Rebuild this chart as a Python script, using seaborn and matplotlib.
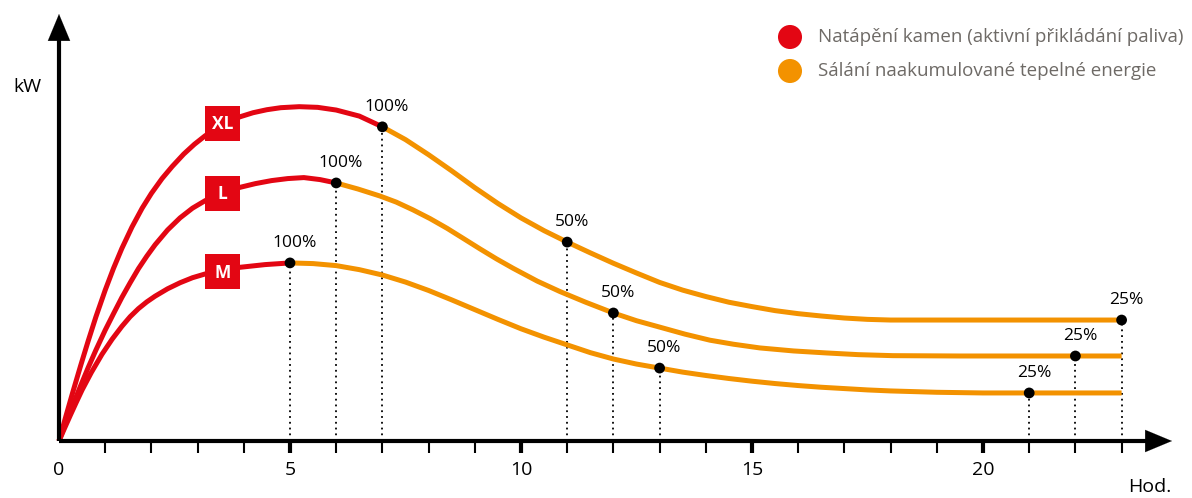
import numpy as np
import pandas as pd
import matplotlib
matplotlib.use("Agg")
import matplotlib.pyplot as plt
from matplotlib.patches import Rectangle
import seaborn as sns

# ---------------- data ----------------
hours_xl = [0, 0.15, 0.3, 0.47, 0.63, 0.8, 1.0, 1.18, 1.36, 1.58, 1.8, 2.0, 2.23, 2.45, 2.7, 2.93,
            3.16, 3.35, 3.54, 3.73, 3.92, 4.2, 4.5, 4.8, 5.2, 5.6, 6.0, 6.5, 7.0, 7.5, 8.0, 8.5,
            9.0, 9.5, 10.0, 10.5, 11.0, 11.5, 12.0, 12.5, 13.0, 13.5, 14.0, 14.5, 15.0, 15.5,
            16.0, 16.5, 17.0, 17.5, 18.0, 19.0, 21.0, 23.0]
kw_xl = [0, 0.74, 1.46, 2.25, 2.97, 3.7, 4.49, 5.14, 5.73, 6.37, 6.93, 7.37, 7.81, 8.17, 8.54, 8.83,
         9.08, 9.25, 9.41, 9.54, 9.65, 9.77, 9.86, 9.92, 9.95, 9.93, 9.85, 9.67, 9.35, 8.97, 8.52, 8.04,
         7.54, 7.07, 6.64, 6.26, 5.92, 5.6, 5.29, 5.0, 4.72, 4.49, 4.3, 4.13, 4.0, 3.88,
         3.79, 3.72, 3.66, 3.62, 3.6, 3.6, 3.6, 3.6]
split_xl = 7.0

hours_l = [0, 0.15, 0.31, 0.47, 0.63, 0.8, 1.0, 1.18, 1.36, 1.54, 1.72, 1.9, 2.08, 2.35, 2.62, 2.89,
           3.16, 3.54, 3.92, 4.25, 4.6, 4.95, 5.3, 5.65, 6.0, 6.47, 6.95, 7.3, 7.66, 8.03, 8.4, 8.75,
           9.11, 9.47, 9.83, 10.35, 10.84, 11.4, 12.0, 12.5, 13.0, 13.55, 14.09, 14.6, 15.17, 15.9,
           16.62, 17.3, 18.05, 19.5, 22.0, 23.0]
kw_l = [0, 0.55, 1.11, 1.65, 2.18, 2.71, 3.3, 3.79, 4.27, 4.71, 5.13, 5.5, 5.84, 6.28, 6.64, 6.93,
        7.15, 7.39, 7.55, 7.66, 7.75, 7.81, 7.84, 7.78, 7.68, 7.5, 7.29, 7.11, 6.88, 6.62, 6.33, 6.03,
        5.72, 5.42, 5.14, 4.76, 4.45, 4.13, 3.81, 3.58, 3.39, 3.18, 3.0, 2.88, 2.77, 2.68,
        2.62, 2.57, 2.54, 2.53, 2.53, 2.53]
split_l = 6.0

hours_m = [0, 0.12, 0.25, 0.37, 0.5, 0.7, 0.93, 1.15, 1.36, 1.54, 1.72, 1.9, 2.08, 2.35, 2.62, 2.89,
           3.16, 3.54, 3.92, 4.46, 5.0, 5.5, 6.0, 6.5, 7.0, 7.5, 8.0, 8.5, 9.0, 9.5, 10.0, 10.5,
           11.0, 11.5, 12.0, 12.5, 13.0, 13.5, 14.0, 14.5, 15.0, 15.5, 16.0, 16.5, 17.0, 17.5,
           18.0, 18.5, 19.0, 20.0, 23.0]
kw_m = [0, 0.38, 0.78, 1.14, 1.52, 2.04, 2.58, 3.03, 3.41, 3.7, 3.94, 4.14, 4.31, 4.53, 4.71, 4.86,
        4.97, 5.09, 5.17, 5.25, 5.3, 5.28, 5.22, 5.1, 4.94, 4.73, 4.48, 4.2, 3.91, 3.62, 3.34, 3.09,
        2.86, 2.63, 2.44, 2.29, 2.17, 2.05, 1.95, 1.86, 1.78, 1.71, 1.65, 1.6, 1.56, 1.52,
        1.49, 1.47, 1.45, 1.43, 1.43]
split_m = 5.0

mark_x_xl = [7, 11, 23]
mark_y_xl = [9.35, 5.92, 3.6]
mark_x_l = [6, 12, 22]
mark_y_l = [7.68, 3.81, 2.53]
mark_x_m = [5, 13, 21]
mark_y_m = [5.3, 2.17, 1.43]
mark_labels = ["100%", "50%", "25%"]

size_names = ["XL", "L", "M"]
tick_labels = ["0", "5", "10", "15", "20"]
legend_labels = ["Natápění kamen (aktivní přikládání paliva)",
                 "Sálání naakumulované tepelné energie"]
x_title = "Hod."
y_title = "kW"

# ---------------- style ----------------
RED = "#e30613"
ORANGE = "#f39200"
GREY = "#6e6a66"
sns.set_theme(style="white")
plt.rcParams['font.family'] = ['Open Sans', 'DejaVu Sans']

fig = plt.figure(figsize=(11.92, 4.98), dpi=100)
ax = fig.add_axes([0, 0, 1, 1])
PX = 46.2   # pixels per hour
PY = 33.6   # pixels per kW unit
ax.set_xlim(-59 / PX, (1192 - 59) / PX)
ax.set_ylim(-57 / PY, 441 / PY)
ax.axis("off")

series = [(hours_xl, kw_xl, split_xl, mark_x_xl, mark_y_xl),
          (hours_l, kw_l, split_l, mark_x_l, mark_y_l),
          (hours_m, kw_m, split_m, mark_x_m, mark_y_m)]

LW = 3.6
for hx, ky, split, mx, my in series:
    df = pd.DataFrame({"h": hx, "kw": ky})
    red = df[df.h <= split]
    orng = df[df.h >= split]
    sns.lineplot(data=orng, x="h", y="kw", color=ORANGE, lw=LW, ax=ax,
                 sort=False, estimator=None, solid_capstyle="butt", solid_joinstyle="round", zorder=3)
    sns.lineplot(data=red, x="h", y="kw", color=RED, lw=LW, ax=ax,
                 sort=False, estimator=None, solid_capstyle="butt", solid_joinstyle="round", zorder=3)
    # dotted drop lines
    for x, y in zip(mx, my):
        ax.plot([x, x], [0, y], ls=(0, (1, 2.2)), color="black", lw=1.3, zorder=2)
    sns.scatterplot(x=mx, y=my, color="black", s=60, ax=ax, zorder=5, edgecolor="none")
    for x, y, t in zip(mx, my, mark_labels):
        ax.text(x + 0.1, y + 12 / PY, t, ha="center", va="bottom", fontsize=12.5,
                color="black", zorder=6)

# size boxes
box_cx = 3.54
box_cy = [9.46, 7.38, 5.04]
bw, bh = 35 / PX, 35 / PY
for name, cy in zip(size_names, box_cy):
    ax.add_patch(Rectangle((box_cx - bw / 2, cy - bh / 2), bw, bh, fc=RED, ec="none", zorder=7))
    ax.text(box_cx, cy - 0.03, name, ha="center", va="center", color="white",
            fontsize=12.5, fontweight="bold", zorder=8)

# axes with arrows
ax.plot([0, 0], [0, (441 - 30) / PY], color="black", lw=3.0, solid_capstyle="butt", zorder=4)
ax.annotate("", xy=(0, (441 - 14) / PY), xytext=(0, (441 - 40) / PY),
            arrowprops=dict(arrowstyle="-|>,head_length=1.2,head_width=0.5", color="black",
                            lw=0.1, mutation_scale=16, shrinkA=0, shrinkB=0), zorder=4)
ax.plot([0, (1150 - 59) / PX], [0, 0], color="black", lw=3.0, solid_capstyle="butt", zorder=4)
ax.annotate("", xy=((1172 - 59) / PX, 0), xytext=((1140 - 59) / PX, 0),
            arrowprops=dict(arrowstyle="-|>,head_length=1.2,head_width=0.5", color="black",
                            lw=0.1, mutation_scale=16, shrinkA=0, shrinkB=0), zorder=4)

# ticks
for i in range(1, 24):
    major = (i % 5 == 0)
    ax.plot([i, i], [-2 / PY, -12 / PY], color="black", lw=3.0 if major else 1.5,
            solid_capstyle="butt", zorder=4)
for i, t in enumerate(tick_labels):
    ax.text(i * 5, -29 / PY, t, ha="center", va="center", fontsize=14, color="black")
ax.text((1150 - 59) / PX, -46 / PY, x_title, ha="center", va="center", fontsize=14, color="black")
ax.text(-32 / PX, (441 - 87) / PY, y_title, ha="center", va="center", fontsize=14, color="black")

# legend
leg_x = (790 - 59) / PX
leg_y = [(441 - 37) / PY, (441 - 71) / PY]
for lab, col, y in zip(legend_labels, [RED, ORANGE], leg_y):
    ax.scatter([leg_x], [y], s=300, color=col, edgecolor="none", zorder=5)
    ax.text(leg_x + 28 / PX, y, lab, ha="left", va="center", fontsize=13.5, color=GREY)

fig.savefig("out.png", dpi=100)
